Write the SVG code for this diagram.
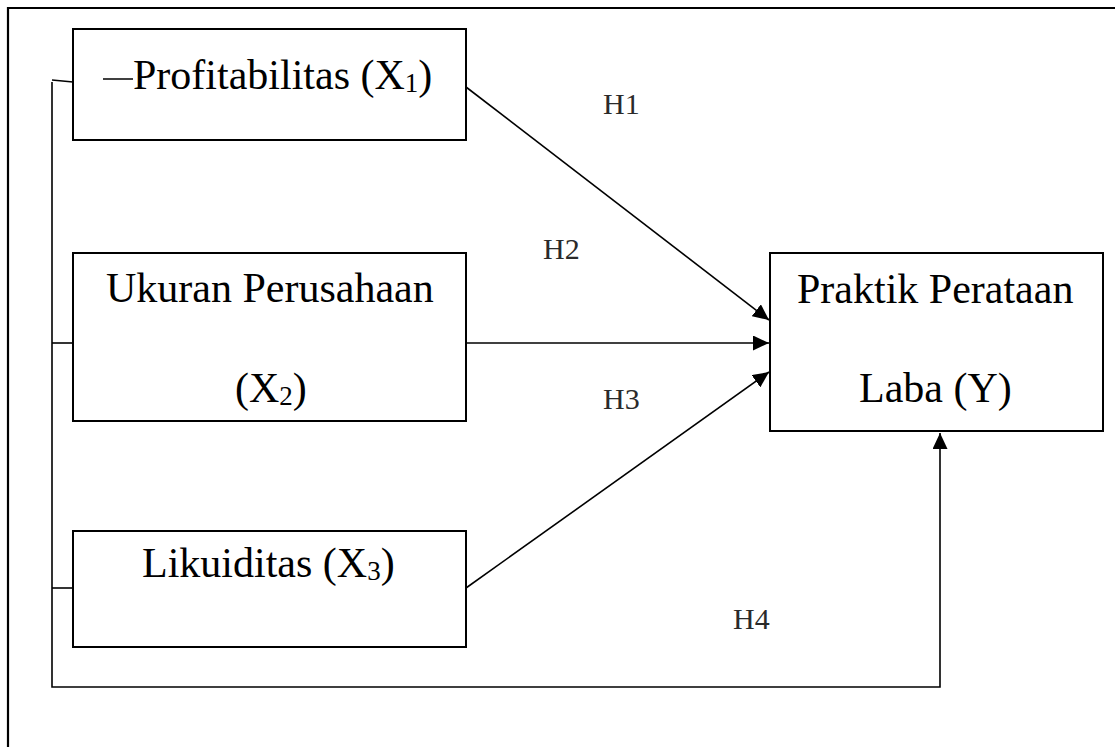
<svg xmlns="http://www.w3.org/2000/svg" width="1115" height="747" viewBox="0 0 1115 747">
<style>
.box{fill:#fff;stroke:#000;stroke-width:2}
.t{font-family:"Liberation Serif","Times New Roman",serif;font-size:42px;fill:#000}
.sub{font-size:27px}
.h{font-family:"Liberation Serif","Times New Roman",serif;font-size:30px;fill:#2a2a2a}
.c{fill:none;stroke:#000;stroke-width:1.6}
</style>
<defs>
<marker id="arr" markerUnits="userSpaceOnUse" markerWidth="17" markerHeight="15" refX="16" refY="7.5" orient="auto">
<path d="M0,0 L16,7.5 L0,15 z" fill="#000"/>
</marker>
</defs>
<rect x="0" y="0" width="1115" height="747" fill="#fff"/>
<path d="M8,747 L8,8 L1115,8" fill="none" stroke="#000" stroke-width="2.2"/>
<g id="connectors">
<path class="c" d="M52,82 L52,687 L940,687 L940,433" marker-end="url(#arr)"/>
<line class="c" x1="52" y1="80" x2="73" y2="82"/>
<line class="c" x1="52" y1="343" x2="73" y2="343"/>
<line class="c" x1="52" y1="588" x2="73" y2="588"/>
<line class="c" x1="466" y1="87" x2="769" y2="320" marker-end="url(#arr)"/>
<line class="c" x1="466" y1="343" x2="769" y2="343" marker-end="url(#arr)"/>
<line class="c" x1="466" y1="588" x2="769" y2="372" marker-end="url(#arr)"/>
<text class="h" x="603" y="114">H1</text>
<text class="h" x="543" y="259">H2</text>
<text class="h" x="603" y="409">H3</text>
<text class="h" x="733" y="629">H4</text>
</g>
<g id="x1">
<rect class="box" x="73" y="29" width="393" height="111"/>
<line x1="103" y1="79" x2="133" y2="79" stroke="#000" stroke-width="1.5"/>
<text class="t" x="133" y="89">Profitabilitas (X<tspan class="sub" dy="3">1</tspan><tspan dy="-3">)</tspan></text>
</g>
<g id="x2">
<rect class="box" x="73" y="253" width="393" height="168"/>
<text class="t" x="106" y="302">Ukuran Perusahaan</text>
<text class="t" x="235" y="402">(X<tspan class="sub" dy="3">2</tspan><tspan dy="-3">)</tspan></text>
</g>
<g id="x3">
<rect class="box" x="73" y="531" width="393" height="116"/>
<text class="t" x="142" y="577">Likuiditas (X<tspan class="sub" dy="3">3</tspan><tspan dy="-3">)</tspan></text>
</g>
<g id="y">
<rect class="box" x="770" y="253" width="333" height="178"/>
<text class="t" x="797" y="303">Praktik Perataan</text>
<text class="t" x="859" y="402">Laba (Y)</text>
</g>
</svg>
